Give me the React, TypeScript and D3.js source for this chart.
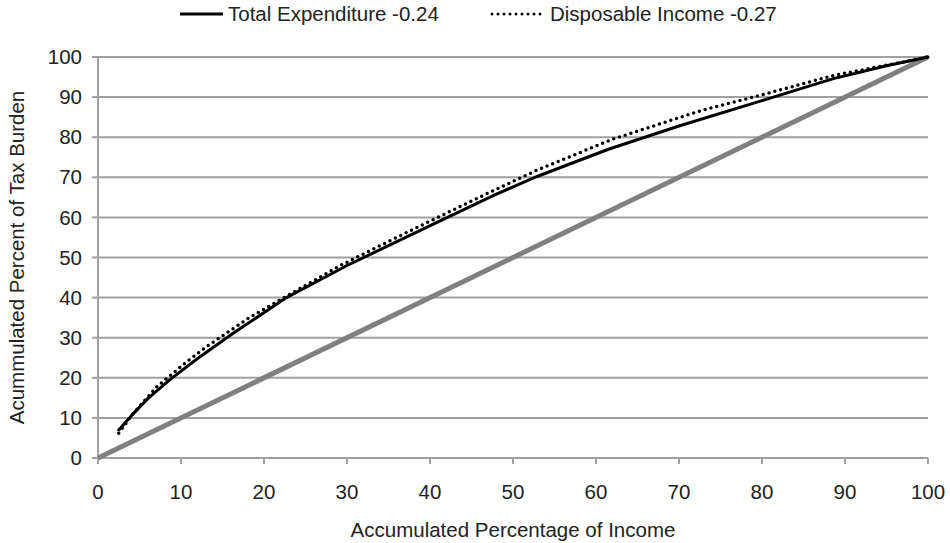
import React from 'react';
import * as d3 from 'd3';

// accumulated % of income vs accumulated % of tax burden
const totalExpenditure: Array<[number, number]> = [
  [2.5, 7], [4, 10.5], [6, 14.8], [8.7, 19.6], [12, 24.8], [16.5, 31.4],
  [22.7, 40], [30, 48], [41.6, 59.5], [48, 65.8], [52.9, 70.2], [61.5, 77],
  [70, 82.8], [80.6, 89.5], [88.6, 94.6], [95, 97.8], [100, 100]
];

const disposableIncome: Array<[number, number]> = [
  [2.5, 6.2], [4, 10.5], [7.1, 17.8], [10.7, 24], [13.1, 27.8], [18.3, 35.1],
  [22.7, 40.3], [29, 47.8], [35, 54], [44.8, 63.9], [52.9, 71.8], [62, 79.5],
  [72.9, 86.8], [80.6, 90.9], [88.6, 95.4], [96.6, 98.6], [100, 100]
];

const equality: Array<[number, number]> = [[0, 0], [100, 100]];

const ticks = [0, 10, 20, 30, 40, 50, 60, 70, 80, 90, 100];

const legendItems = [
  { label: 'Total Expenditure -0.24', dash: null },
  { label: 'Disposable Income -0.27', dash: '0 6' }
];

const W = 950;
const H = 543;
const margin = { top: 57, right: 22, bottom: 85, left: 98 };
const font = '"Liberation Sans", Arial, sans-serif';
const fs = 20.5;

export default function App() {
  const x = d3.scaleLinear().domain([0, 100]).range([margin.left, W - margin.right]);
  const y = d3.scaleLinear().domain([0, 100]).range([H - margin.bottom, margin.top]);
  const line = d3.line<[number, number]>().x(d => x(d[0])).y(d => y(d[1]));

  const legendX = [180, 490];

  return (
    <div style={{ position: 'fixed', left: 0, top: 0 }}>
      <svg width={W} height={H} style={{ display: 'block', background: '#fff' }} fontFamily={font}>
        {/* gridlines */}
        {ticks.filter(t => t > 0).map(t => (
          <line key={'g' + t} x1={x(0)} x2={x(100)} y1={y(t)} y2={y(t)} stroke="#a0a0a0" strokeWidth={2} />
        ))}
        {/* axes */}
        <line x1={x(0)} x2={x(0)} y1={y(0)} y2={y(100)} stroke="#a0a0a0" strokeWidth={2} />
        <line x1={x(0)} x2={x(100)} y1={y(0)} y2={y(0)} stroke="#a0a0a0" strokeWidth={2} />
        {ticks.map(t => (
          <g key={'yt' + t}>
            <line x1={x(0) - 6} x2={x(0)} y1={y(t)} y2={y(t)} stroke="#a0a0a0" strokeWidth={2} />
            <text x={x(0) - 16} y={y(t)} dy="0.35em" textAnchor="end" fontSize={fs} fill="#222">{t}</text>
          </g>
        ))}
        {ticks.map(t => (
          <g key={'xt' + t}>
            <line x1={x(t)} x2={x(t)} y1={y(0)} y2={y(0) + 6} stroke="#a0a0a0" strokeWidth={2} />
            <text x={x(t)} y={y(0) + 34} dy="0.35em" textAnchor="middle" fontSize={fs} fill="#222">{t}</text>
          </g>
        ))}

        {/* equality line */}
        <path d={line(equality) || ''} fill="none" stroke="#808080" strokeWidth={5} />

        {/* series */}
        <path d={line(totalExpenditure) || ''} fill="none" stroke="#000" strokeWidth={3} strokeLinejoin="round" strokeLinecap="round" />
        <path d={line(disposableIncome) || ''} fill="none" stroke="#000" strokeWidth={3.5}
          strokeDasharray="0 6" strokeLinecap="round" />

        {/* axis titles */}
        <text x={(x(0) + x(100)) / 2} y={530} dy="0.35em" textAnchor="middle" fontSize={fs} fill="#222">
          Accumulated Percentage of Income
        </text>
        <text transform={`translate(17,${(y(0) + y(100)) / 2}) rotate(-90)`} dy="0.35em" textAnchor="middle" fontSize={fs} fill="#222">
          Acummulated Percent of Tax Burden
        </text>

        {/* legend */}
        {legendItems.map((item, i) => (
          <g key={item.label} transform={`translate(${legendX[i]},14)`}>
            {item.dash
              ? <line x1={2} x2={54} y1={0} y2={0} stroke="#000" strokeWidth={3} strokeDasharray={item.dash} strokeLinecap="round" />
              : <line x1={0} x2={43} y1={0} y2={0} stroke="#000" strokeWidth={3} />}
            <text x={item.dash ? 60 : 48} y={0} dy="0.35em" fontSize={fs} fill="#222">{item.label}</text>
          </g>
        ))}
      </svg>
    </div>
  );
}
